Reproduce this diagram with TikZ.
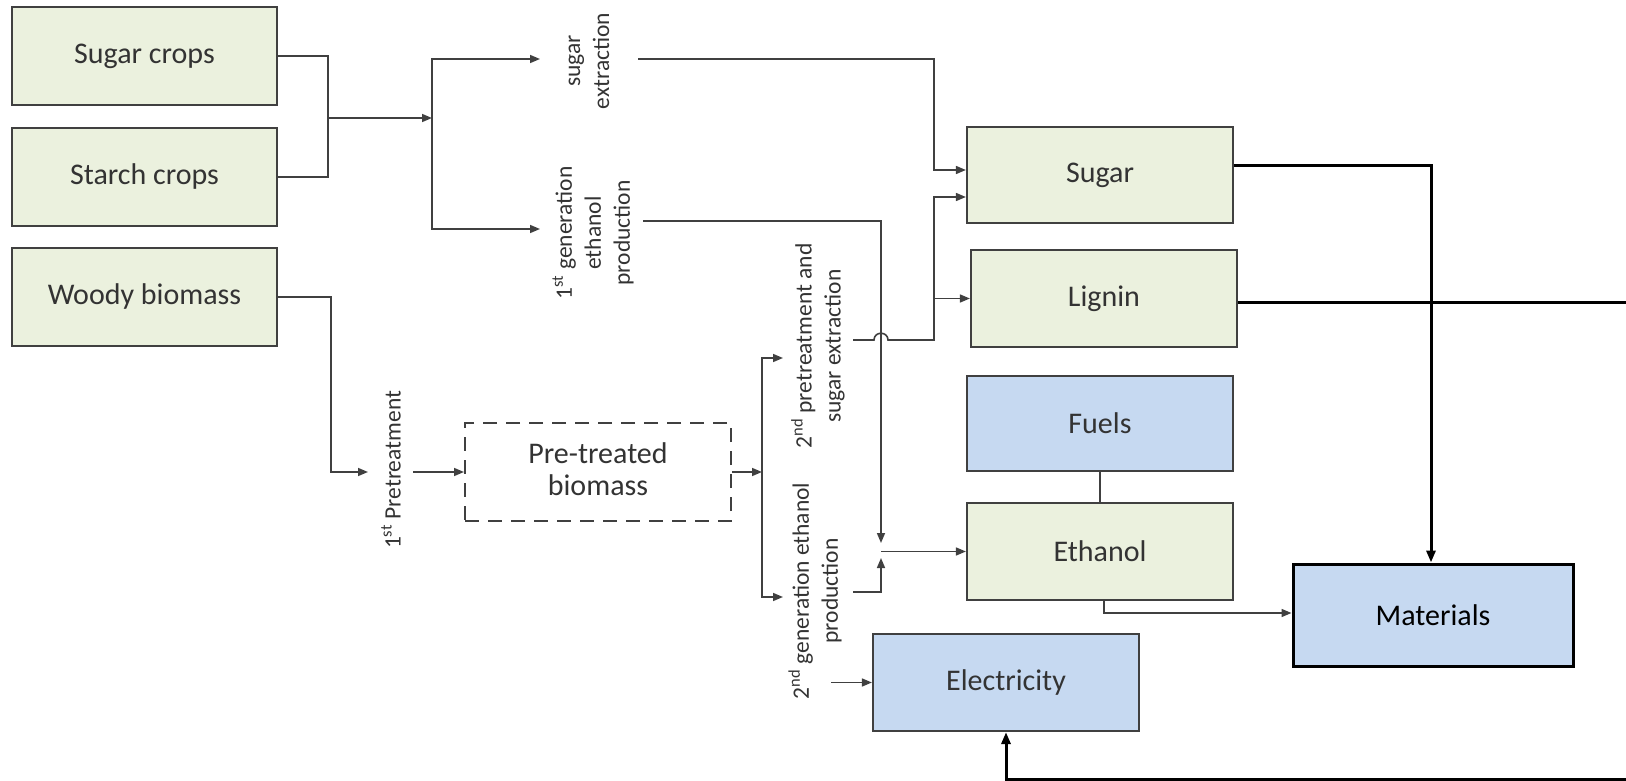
\documentclass[tikz,border=0pt]{standalone}
\usepackage{fontspec}
\setmainfont{Carlito}
\usetikzlibrary{arrows.meta}
\definecolor{boxgreen}{HTML}{EBF1DE}
\definecolor{boxblue}{HTML}{C6D9F1}
\definecolor{edgegray}{HTML}{404040}
\definecolor{txtgray}{HTML}{333333}
\begin{document}
\begin{tikzpicture}[x=1pt,y=-1pt,
  box/.style={draw=edgegray, line width=2.2pt, minimum width=266pt, minimum height=97pt, inner sep=0pt, text=txtgray, font=\fontsize{30}{36}\selectfont},
  gbox/.style={box, fill=boxgreen},
  bbox/.style={box, fill=boxblue},
  lbl/.style={rotate=90, align=center, text=txtgray, font=\fontsize{23.5}{29}\selectfont, inner sep=0pt},
  conn/.style={draw=edgegray, line width=1.6pt},
  arr/.style={conn, -{Triangle[length=10pt,width=8pt]}},
  heavy/.style={draw=black, line width=3pt},
  harr/.style={heavy, -{Triangle[length=12pt,width=9pt]}},
]
\useasboundingbox (0,0) rectangle (1626,781);

% boxes
\node[gbox, minimum width=265pt, minimum height=98pt] (sc) at (144.5,56) {Sugar crops};
\node[gbox, minimum width=265pt, minimum height=98pt] (stc) at (144.5,177) {Starch crops};
\node[gbox, minimum width=265pt, minimum height=98pt] (wb) at (144.5,297) {Woody biomass};
\node[box, dashed, dash pattern=on 14pt off 9pt, line width=2pt, minimum height=98pt] (ptb) at (598,472) {\begin{tabular}{c}Pre-treated\\[-4pt]biomass\end{tabular}};
\node[gbox, minimum height=96pt] (sugar) at (1100,175) {Sugar};
\node[gbox] (lignin) at (1104,298.5) {Lignin};
\node[bbox, minimum height=95pt] (fuels) at (1100,423.5) {Fuels};
\node[gbox] (ethanol) at (1100,551.5) {Ethanol};
\node[bbox] (elec) at (1006,682.5) {Electricity};
\node[bbox, draw=black, line width=3pt, text=black, minimum width=280pt, minimum height=102pt] (mat) at (1433,615) {Materials};

% rotated labels
\node[lbl] (lse) at (589,61) {sugar\\extraction};
\node[lbl] (lge) at (593,233) {1\textsuperscript{st} generation\\ethanol\\production};
\node[lbl] (lpt) at (391,470) {1\textsuperscript{st} Pretreatment};
\node[lbl] (lpse) at (818,346) {2\textsuperscript{nd} pretreatment and\\sugar extraction};
\node[lbl] (lgee) at (815,591) {2\textsuperscript{nd} generation ethanol\\production};

% coordinates
\coordinate (m1) at (328,118);
\coordinate (s1) at (432,118);
\coordinate (seIn) at (540,59);
\coordinate (geIn) at (540,229);
\coordinate (seOut) at (638,59);
\coordinate (geOut) at (643,221);
\coordinate (ptIn) at (368,472);
\coordinate (ptOut) at (413,472);
\coordinate (s2) at (762,472);
\coordinate (pseIn) at (783,358);
\coordinate (geeIn) at (783,597);
\coordinate (pseOut) at (853,340);
\coordinate (geeOut) at (853,592);
\coordinate (ej) at (881,551.5);
\coordinate (elIn) at (831,682.5);
\coordinate (rEdgeL) at (1626,302);
\coordinate (rEdgeB) at (1626,779.5);

% first generation
\draw[conn] (sc.east) -| (m1);
\draw[conn] (stc.east) -| (m1);
\draw[arr] (m1) -- (s1);
\draw[arr] (s1) |- (seIn);
\draw[arr] (s1) |- (geIn);
\draw[arr] (seOut) -| (934,170) -- (sugar.west |- 0,170);
\draw[arr] (geOut) -| (881,543);

% woody biomass path
\draw[arr] (wb.east) -| (331,472) -- (ptIn);
\draw[arr] (ptOut) -- (ptb.west);
\draw[arr] (ptb.east) -- (s2);
\draw[arr] (762,472) |- (pseIn);
\draw[arr] (762,472) |- (geeIn);

% second pretreatment output with hop over the vertical line
\draw[arr] (pseOut) -- (874,340) .. controls (874,331) and (888,331) .. (888,340) -| (934,197) -- (sugar.west |- 0,197);
\draw[arr] (934,298.5) -- (lignin.west);

% second generation ethanol
\draw[arr] (geeOut) -| (881,558);
\draw[arr] (ej) -- (ethanol.west);

% electricity input
\draw[arr] (elIn) -- (elec.west);

% fuels - ethanol
\draw[conn] (fuels.south) -- (ethanol.north);

% ethanol -> materials
\draw[arr] (ethanol.south -| 1104,0) |- (mat.west |- 0,613);

% sugar -> materials
\draw[harr] ([yshift=9pt]sugar.east) -| (mat.north -| 1431,0);

% lignin -> right edge
\draw[heavy] (lignin.east |- 0,302) -- (rEdgeL);

% bottom line -> electricity
\draw[harr] (rEdgeB) -| (elec.south);
\end{tikzpicture}
\end{document}
